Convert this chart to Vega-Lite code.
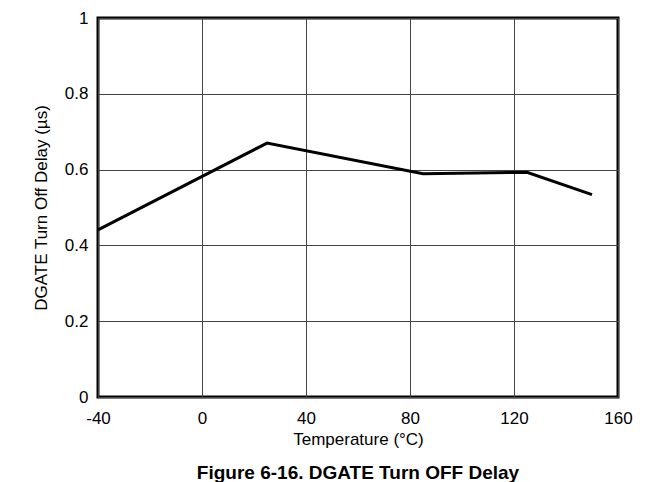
{
  "$schema": "https://vega.github.io/schema/vega-lite/v6.json",
  "autosize": "none",
  "width": 520,
  "height": 379,
  "padding": {"left": 98, "top": 18, "right": 46, "bottom": 85},
  "background": "white",
  "config": {
    "font": "Liberation Sans",
    "view": {"stroke": "black", "strokeWidth": 3},
    "axis": {
      "domain": false,
      "ticks": false,
      "labelFlush": false,
      "gridColor": "#444444",
      "gridWidth": 1,
      "gridOpacity": 1,
      "labelFont": "Liberation Sans",
      "labelFontSize": 17,
      "labelColor": "black",
      "titleFont": "Liberation Sans",
      "titleFontSize": 17,
      "titleFontWeight": "normal",
      "titleColor": "black"
    }
  },
  "title": {
    "text": "Figure 6-16. DGATE Turn OFF Delay",
    "orient": "bottom",
    "anchor": "middle",
    "font": "Liberation Sans",
    "fontSize": 19,
    "fontWeight": "bold",
    "color": "black",
    "offset": 17
  },
  "data": {
    "values": [
      {"t": -40, "d": 0.441},
      {"t": 25, "d": 0.670},
      {"t": 85, "d": 0.589},
      {"t": 125, "d": 0.593},
      {"t": 150, "d": 0.534}
    ]
  },
  "mark": {"type": "line", "color": "black", "strokeWidth": 3},
  "encoding": {
    "x": {
      "field": "t",
      "type": "quantitative",
      "scale": {"domain": [-40, 160], "nice": false},
      "axis": {"values": [-40, 0, 40, 80, 120, 160], "labelExpr": "datum.value + ''", "title": "Temperature (°C)", "labelPadding": 13, "titlePadding": 5}
    },
    "y": {
      "field": "d",
      "type": "quantitative",
      "scale": {"domain": [0, 1], "nice": false},
      "axis": {"values": [0, 0.2, 0.4, 0.6, 0.8, 1], "labelExpr": "datum.value + ''", "title": "DGATE Turn Off Delay (µs)", "labelPadding": 10, "titlePadding": 14}
    }
  }
}
